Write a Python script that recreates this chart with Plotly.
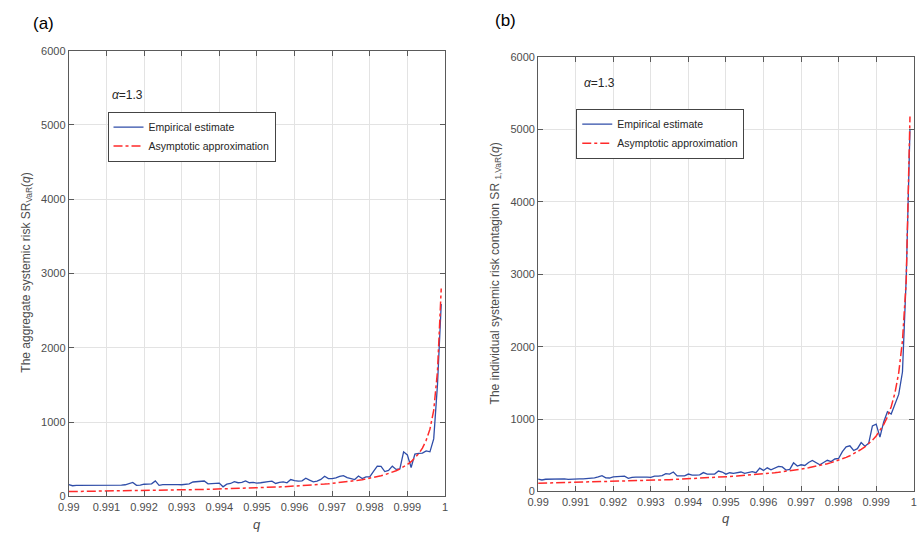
import plotly.graph_objects as go

# q grid: 0.9900, 0.9901, ..., 0.9999
q = [round(0.99 + 0.0001 * i, 4) for i in range(100)]

emp_a = [160, 145, 150, 150, 148, 148, 147, 150, 145, 142,
         150, 148, 147, 145, 152, 158, 175, 190, 150, 152,
         165, 168, 170, 210, 150, 160, 162, 162, 162, 160,
         158, 168, 170, 195, 200, 205, 208, 170, 175, 178,
         180, 130, 165, 175, 200, 185, 190, 210, 185, 190,
         180, 185, 197, 200, 206, 175, 190, 197, 184, 228,
         215, 206, 211, 246, 220, 197, 206, 230, 272, 241,
         241, 250, 270, 281, 255, 241, 228, 276, 241, 263,
         265, 338, 408, 404, 335, 351, 408, 364, 370, 601,
         560, 390, 570, 579, 583, 614, 601, 775, 1500, 2590]

asy_a = [66, 66.5, 67.1, 67.6, 68.2, 68.8, 69.4, 70, 70.6, 71.2,
         71.9, 72.6, 73.3, 74.0, 74.7, 75.4, 76.1, 76.8, 77.6, 78.3,
         79.1, 79.9, 80.8, 81.7, 82.6, 83.5, 84.4, 85.3, 86.3, 87.2,
         88.2, 89.3, 90.4, 91.5, 92.7, 93.8, 95.0, 96.2, 97.5, 98.7,
         100, 101.4, 102.8, 104.3, 105.8, 107.3, 108.9, 110.6, 112.3, 114.1,
         116, 117.9, 119.9, 122, 124.1, 126.4, 128.8, 131.2, 133.7, 136.3,
         139.1, 142, 145, 148.2, 151.5, 155, 158.7, 162.5, 166.6, 171,
         175.8, 180.8, 186, 191.6, 197.5, 203.9, 210.8, 218.3, 226.4, 235.1,
         244.5, 255, 266.3, 279, 293.2, 309.1, 327, 347.3, 370.6, 397.9,
         430, 468.4, 515.6, 574.8, 651.6, 755.8, 906.4, 1160, 1680, 2800]

emp_b = [170, 158, 168, 170, 170, 172, 170, 172, 165, 170,
         172, 172, 174, 176, 180, 188, 200, 218, 188, 185,
         200, 205, 205, 210, 180, 195, 198, 200, 196, 196,
         195, 212, 212, 218, 245, 240, 268, 215, 215, 216,
         240, 225, 225, 228, 260, 240, 238, 240, 282, 268,
         238, 258, 248, 258, 268, 250, 262, 272, 258, 322,
         290, 326, 298, 320, 345, 338, 295, 305, 395, 350,
         368, 358, 400, 428, 398, 368, 400, 430, 412, 448,
         455, 550, 615, 630, 565, 590, 675, 625, 665, 905,
         930, 750, 960, 1100, 1070, 1200, 1340, 1650, 2950, 5010]

asy_b = [113.3, 114.3, 115.3, 116.3, 117.3, 118.3, 119.3, 120.4, 121.5, 122.6,
         123.7, 124.9, 126.1, 127.3, 128.5, 129.7, 131, 132.3, 133.6, 135,
         136.4, 137.8, 139.3, 140.8, 142.3, 143.9, 145.5, 147.2, 148.9, 150.6,
         152.3, 154.2, 156.1, 158, 160, 162, 164.2, 166.4, 168.6, 170.9,
         173.2, 175.7, 178.2, 180.7, 183.4, 186.1, 189, 192.1, 195.1, 198.3,
         201.5, 205, 208.6, 212.3, 216.1, 219.9, 224.1, 228.4, 232.9, 237.6,
         242.5, 247.7, 253.2, 258.8, 264.7, 270.9, 277.5, 284.4, 291.7, 299.5,
         307.9, 316.6, 325.8, 335.6, 346.5, 358.2, 370.4, 383.6, 397.8, 413.6,
         431.0, 449.8, 470.3, 493.2, 518.7, 547.2, 579.4, 616.4, 658.6, 708.1,
         766.1, 836, 922, 1030, 1171, 1362, 1639, 2081, 2914, 5180]

x_ticks = [0.99, 0.991, 0.992, 0.993, 0.994, 0.995, 0.996, 0.997, 0.998, 0.999, 1]
x_ticktext = ["0.99", "0.991", "0.992", "0.993", "0.994", "0.995", "0.996",
              "0.997", "0.998", "0.999", "1"]
y_ticks = [0, 1000, 2000, 3000, 4000, 5000, 6000]

BLUE = "#2f4da8"
RED = "#ff2a2a"
FONT = "Liberation Sans, Arial, sans-serif"
W, H = 919, 537

fig = go.Figure()
fig.add_trace(go.Scatter(x=q, y=emp_a, mode="lines", name="Empirical estimate",
                         line=dict(color=BLUE, width=1.3), xaxis="x", yaxis="y",
                         legend="legend"))
fig.add_trace(go.Scatter(x=q, y=asy_a, mode="lines", name="Asymptotic approximation",
                         line=dict(color=RED, width=1.5, dash="dashdot"), xaxis="x", yaxis="y",
                         legend="legend"))
fig.add_trace(go.Scatter(x=q, y=emp_b, mode="lines", name="Empirical estimate",
                         line=dict(color=BLUE, width=1.3), xaxis="x2", yaxis="y2",
                         legend="legend2"))
fig.add_trace(go.Scatter(x=q, y=asy_b, mode="lines", name="Asymptotic approximation",
                         line=dict(color=RED, width=1.5, dash="dashdot"), xaxis="x2", yaxis="y2",
                         legend="legend2"))

def px_x(px):
    return px / W

def px_y(py):
    return 1 - py / H

axis_common = dict(
    showline=True, linecolor="#5a5a5a", linewidth=1, mirror="ticks",
    ticks="inside", ticklen=5, tickcolor="#5a5a5a", tickwidth=1,
    showgrid=True, gridcolor="#e3e3e3", gridwidth=1, zeroline=False,
    tickfont=dict(family=FONT, size=11, color="#4d4d4d"),
)

xa = dict(axis_common, range=[0.99, 1], tickvals=x_ticks, ticktext=x_ticktext)
ya = dict(axis_common, range=[0, 6000], tickvals=y_ticks)

legend_common = dict(
    bgcolor="white", bordercolor="#444444", borderwidth=1,
    font=dict(family=FONT, size=10.5, color="#262626"),
    xanchor="left", yanchor="top", itemwidth=30, tracegroupgap=0,
)

fig.update_layout(
    width=W, height=H,
    margin=dict(l=0, r=0, t=0, b=0),
    paper_bgcolor="white", plot_bgcolor="white",
    xaxis=dict(xa, domain=[px_x(58.7), px_x(440.7)], anchor="y"),
    yaxis=dict(ya, domain=[px_y(501.7), px_y(45.7)], anchor="x"),
    xaxis2=dict(xa, domain=[px_x(535.3), px_x(916.7)], anchor="y2"),
    yaxis2=dict(ya, domain=[px_y(496.5), px_y(52.4)], anchor="x2"),
    legend=dict(legend_common, x=px_x(98), y=px_y(108)),
    legend2=dict(legend_common, x=px_x(574), y=px_y(105)),
    showlegend=True,
)

ann = [
    dict(text="(a)", x=px_x(20), y=px_y(18), xanchor="left", yanchor="middle",
         font=dict(family=FONT, size=17, color="black")),
    dict(text="(b)", x=px_x(489), y=px_y(15), xanchor="left", yanchor="middle",
         font=dict(family=FONT, size=17, color="black")),
    dict(text="<i>α</i>=1.3", x=px_x(101), y=px_y(91), xanchor="left", yanchor="middle",
         font=dict(family=FONT, size=12, color="#262626")),
    dict(text="<i>α</i>=1.3", x=px_x(580), y=px_y(79), xanchor="left", yanchor="middle",
         font=dict(family=FONT, size=12, color="#262626")),
    dict(text="<i>q</i>", x=px_x(249.7), y=px_y(530), xanchor="center", yanchor="middle",
         font=dict(family=FONT, size=13, color="#4d4d4d")),
    dict(text="<i>q</i>", x=px_x(726), y=px_y(524), xanchor="center", yanchor="middle",
         font=dict(family=FONT, size=13, color="#4d4d4d")),
    dict(text="The aggregate systemic risk SR<sub>VaR</sub>(<i>q</i>)",
         x=px_x(16), y=px_y(273), xanchor="center", yanchor="middle", textangle=-90,
         font=dict(family=FONT, size=12, color="#4d4d4d")),
    dict(text="The individual systemic risk contagion SR <sub>1,VaR</sub>(<i>q</i>)",
         x=px_x(492), y=px_y(274), xanchor="center", yanchor="middle", textangle=-90,
         font=dict(family=FONT, size=12, color="#4d4d4d")),
]
for a in ann:
    a.update(xref="paper", yref="paper", showarrow=False)
fig.update_layout(annotations=ann)

fig.write_html("out.html")
